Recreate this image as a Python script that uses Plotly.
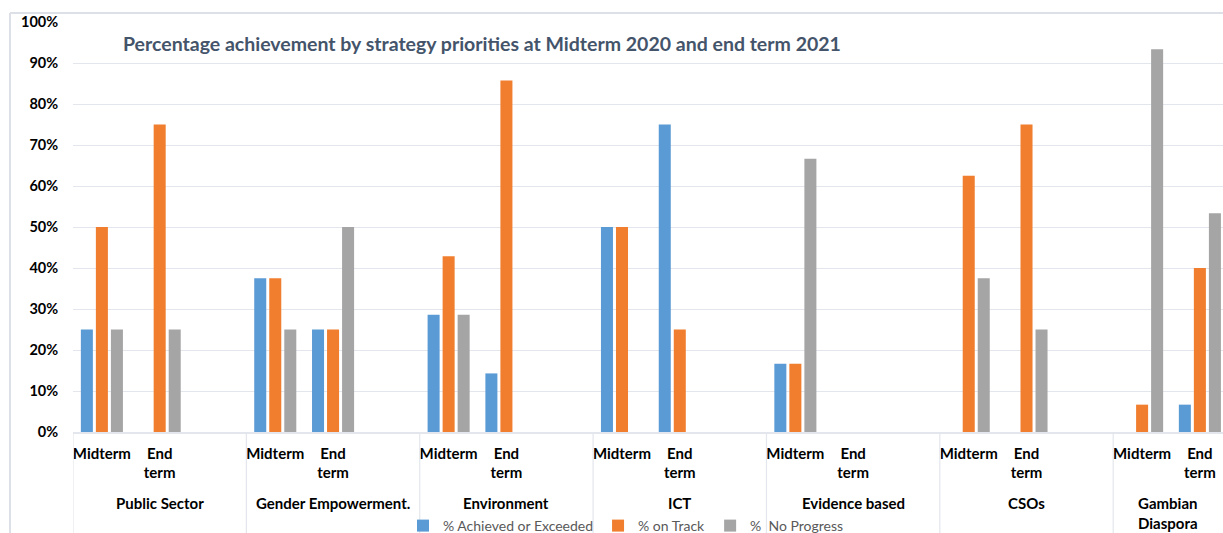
import plotly.graph_objects as go

# Strategy priorities (outer axis level) and reporting periods (inner level)
groups = ["Public Sector", "Gender Empowerment.", "Environment", "ICT",
          "Evidence based", "CSOs", "Gambian<br>Diaspora"]
periods = ["Midterm", "End<br>term"]

# Percentages per priority: Midterm, End term pairs
achieved = [25, 0, 37.5, 25, 28.57, 14.29, 50, 75, 16.67, 0, 0, 0, 0, 6.67]
on_track = [50, 75, 37.5, 25, 42.86, 85.71, 50, 25, 16.67, 0, 62.5, 75, 6.67, 40]
no_progress = [25, 25, 25, 50, 28.57, 0, 0, 0, 66.67, 0, 37.5, 25, 93.33, 53.33]

series = [
    ("% Achieved or Exceeded", achieved, "#5B9BD5"),
    ("% on Track", on_track, "#F07E2E"),
    ("%\u00a0 No Progress", no_progress, "#A5A5A5"),
]

# Each priority takes three slots: Midterm, End term and an empty spacer slot
SLOTS = 3
x_pos = [g * SLOTS + p for g in range(len(groups)) for p in range(len(periods))]
tick_text = [periods[p] for g in range(len(groups)) for p in range(len(periods))]

x_min, x_max = -0.5, 19.4  # the last priority runs past the right edge

FONT = "Lato"
PLOT_W, PLOT_H = 1150, 410

fig = go.Figure()
for name, vals, color in series:
    fig.add_trace(go.Bar(
        x=x_pos, y=vals, name=name,
        marker=dict(color=color, line=dict(width=0)),
    ))

# Vertical separators between priorities, running through the label area
shapes = []
for g in range(len(groups)):
    xb = g * SLOTS - 0.5
    if xb <= x_max:
        shapes.append(dict(type="line", xref="x", yref="paper",
                           x0=xb, x1=xb, y0=0, y1=-0.26,
                           line=dict(color="#E3E6EC", width=1.2)))
# Outer chart frame (left and top edges)
frame_x = -63 / PLOT_W
frame_y = (432 - 13) / PLOT_H
shapes.append(dict(type="line", xref="paper", yref="paper",
                   x0=frame_x, x1=frame_x, y0=-0.3, y1=frame_y,
                   line=dict(color="#DDE0E6", width=2)))
shapes.append(dict(type="line", xref="paper", yref="paper",
                   x0=frame_x, x1=1.01, y0=frame_y, y1=frame_y,
                   line=dict(color="#DDE0E6", width=2)))

# Priority labels centred under the visible part of each group
annotations = []
for g, label in enumerate(groups):
    start = g * SLOTS - 0.5
    end = min(start + SLOTS, x_max)
    annotations.append(dict(
        x=(start + end) / 2, y=-60 / PLOT_H, xref="x", yref="paper",
        text=f"<b>{label}</b>", showarrow=False, yanchor="top",
        font=dict(family=FONT, size=15, color="#000000"),
    ))

fig.update_layout(
    width=1223, height=533,
    margin=dict(l=73, r=0, t=22, b=101, autoexpand=False),
    paper_bgcolor="white", plot_bgcolor="white",
    barmode="group", bargap=0.22, bargroupgap=0.2,
    title=dict(
        text="<b>Percentage achievement by strategy priorities at Midterm 2020 and end term 2021</b>",
        x=123 / 1223, xanchor="left", y=1 - 44 / 533, yanchor="middle",
        font=dict(family=FONT, size=19.5, color="#44546A"),
    ),
    xaxis=dict(
        range=[x_min, x_max],
        tickmode="array", tickvals=x_pos,
        ticktext=[f"<b>{t}</b>" for t in tick_text],
        tickfont=dict(family=FONT, size=15, color="#000000"),
        ticks="outside", ticklen=7, tickcolor="rgba(0,0,0,0)",
        showgrid=False, zeroline=False,
        showline=True, linecolor="#E3E6EC", linewidth=1.5,
    ),
    yaxis=dict(
        range=[0, 100], dtick=10, ticksuffix="%",
        tickfont=dict(family=FONT, size=14.5, color="#000000"),
        tickprefix="<b>",
        showgrid=True, gridcolor="#E3E6EC", gridwidth=1,
        zeroline=False, showline=False,
        ticks="outside", ticklen=11, tickcolor="rgba(0,0,0,0)",
    ),
    legend=dict(
        orientation="h", x=(626 - 73) / PLOT_W, xanchor="center",
        y=(432 - 526) / PLOT_H, yanchor="middle",
        font=dict(family=FONT, size=14, color="#595959"),
        bgcolor="rgba(0,0,0,0)", traceorder="normal",
        itemwidth=30,
    ),
    shapes=shapes,
    annotations=annotations,
)

fig.write_html("out.html")
